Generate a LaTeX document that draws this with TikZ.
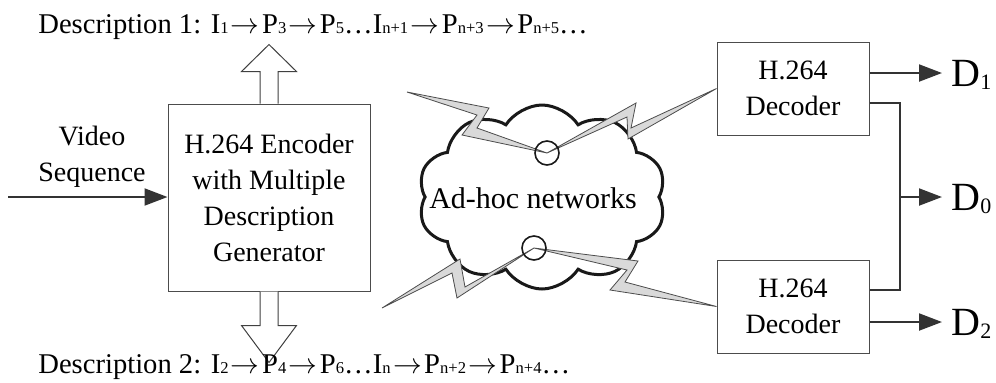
\documentclass[tikz,border=0pt]{standalone}
\usepackage{fontspec}
\setmainfont{Liberation Serif}
\usetikzlibrary{arrows.meta,shapes.symbols,calc}

\newcommand\sbs[1]{{\fontsize{8.3}{8.3}\selectfont #1}}
\newcommand\nx{\kern1.2pt$\rightarrow$\kern1.2pt}
\newcommand\dlab[1]{D\lower1.5pt\hbox{\fontsize{11}{11}\selectfont #1}}

\tikzset{
  block/.style={draw=black!70,line width=0.5pt,align=center,inner sep=0pt},
  sig/.style={draw=black!80,line width=1pt,-{Triangle[length=11.5pt,width=8.5pt]}},
  wire/.style={draw=black!80,line width=1pt},
  hollow/.style={draw=black!75,line width=0.5pt,fill=white},
  bolt/.style={draw=black!70,line width=0.4pt,fill=black!15},
  hub/.style={circle,draw=black!90,line width=0.8pt,minimum size=12pt,inner sep=0pt},
  outlab/.style={anchor=west,inner xsep=4.5pt,inner ysep=0pt,text depth=0pt,
    font=\fontsize{20}{20}\selectfont}
}

\begin{document}
\begin{tikzpicture}[x=0.5pt,y=-0.5pt,font=\fontsize{14}{18}\selectfont]
  \useasboundingbox (0,0) rectangle (996,382);

  % encoder and decoders
  \node[block,minimum width=101pt,minimum height=93.5pt] (enc) at (269,197.5)
    {H.264 Encoder\\with Multiple\\Description\\Generator};
  \node[block,minimum width=76pt,minimum height=46.5pt] (dec1) at (793,88.5)
    {H.264\\Decoder};
  \node[block,minimum width=76pt,minimum height=46.5pt] (dec2) at (793,306.5)
    {H.264\\Decoder};

  % input
  \coordinate (src) at (8,197);
  \node[align=center] (vid) at (92,157) {Video\\Sequence};
  \draw[sig] (src) -- (enc.west |- src);

  % the two descriptions
  \draw[hollow] ($(enc.north)+(-9,0)$) -- ++(0,-32) -- ++(-18.5,0) -- ++(27.5,-27)
    -- ++(27.5,27) -- ++(-18.5,0) -- ++(0,32);
  \draw[hollow] ($(enc.south)+(-9,0)$) -- ++(0,34) -- ++(-18.5,0) -- ++(27.5,37)
    -- ++(27.5,-37) -- ++(-18.5,0) -- ++(0,-34);
  \node[anchor=base west,inner sep=0pt,font=\fontsize{14.3}{18}\selectfont] (desc1) at (38,33)
    {Description 1: I\sbs{1}\nx P\sbs{3}\nx P\sbs{5}…I\sbs{n+1}\nx P\sbs{n+3}\nx P\sbs{n+5}…};
  \node[anchor=base west,inner sep=0pt,font=\fontsize{14.3}{18}\selectfont] (desc2) at (38,373)
    {Description 2: I\sbs{2}\nx P\sbs{4}\nx P\sbs{6}…I\sbs{n}\nx P\sbs{n+2}\nx P\sbs{n+4}…};

  % network
  \node[cloud,draw=black!90,line width=1.5pt,cloud puffs=10,cloud puff arc=115,
    cloud ignores aspect,minimum width=124pt,minimum height=92pt,inner sep=0pt]
    (net) at (542,197) {};
  \node[font=\fontsize{15}{18}\selectfont] (netlab) at (533,198) {Ad-hoc networks};
  \coordinate (h1) at (547,153);
  \coordinate (h2) at (534,248);
  \coordinate (far1) at (407,92);
  \coordinate (far2) at (382,308);

  % wireless links
  \filldraw[bolt] (far1) -- (489,108) -- (477,128) -- (h1) -- (462,135) -- (477,115) -- cycle;
  \filldraw[bolt] (h1) -- (636,103) -- (631,128) -- (dec1.west) -- (628,139) -- (627,117) -- cycle;
  \filldraw[bolt] (far2) -- (460,259) -- (465,287) -- (h2) -- (457,298) -- (452,273) -- cycle;
  \filldraw[bolt] (h2) -- (638,261) -- (625,282) -- (dec2.west) -- (610,290) -- (627,270) -- cycle;
  \node[hub] (c1) at (h1) {};
  \node[hub] (c2) at (h2) {};

  % outputs
  \node[outlab] (d1) at (942,73) {\dlab{1}};
  \node[outlab] (d0) at (942,197) {\dlab{0}};
  \node[outlab] (d2) at (942,322) {\dlab{2}};
  \coordinate (jn) at (900,197);
  \draw[sig] (dec1.east |- d1) -- (d1);
  \draw[sig] (dec2.east |- d2) -- (d2);
  \draw[wire] ([yshift=-7.25pt]dec1.east) -| (jn) |- ([yshift=8.25pt]dec2.east);
  \draw[sig] (jn) -- (d0);
\end{tikzpicture}
\end{document}
